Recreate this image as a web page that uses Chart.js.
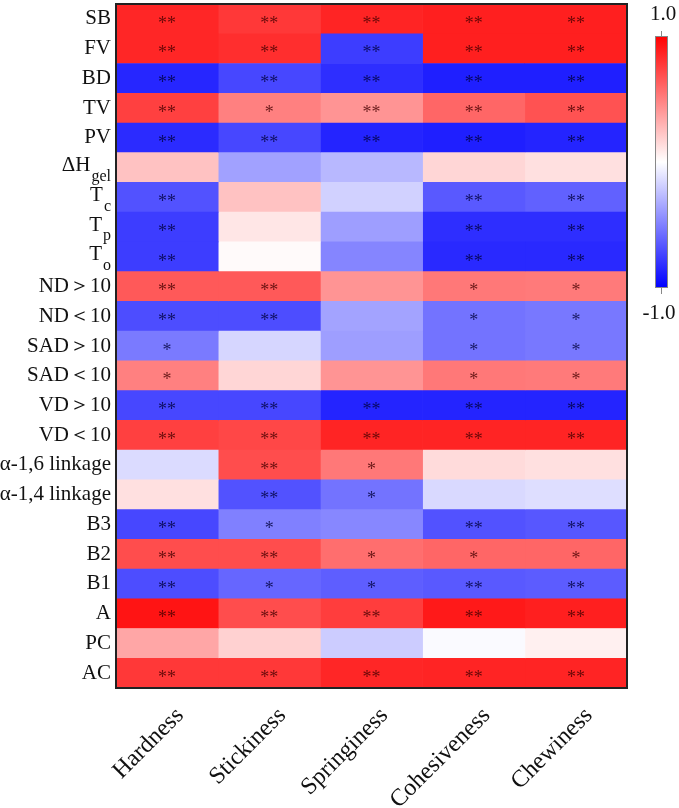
<!DOCTYPE html>
<html>
<head>
<meta charset="utf-8">
<script src="https://cdn.jsdelivr.net/npm/chart.js@4"></script>
<style>
  body { margin: 0; background: #fff; }
  #wrap { width: 679px; height: 808px; }
</style>
</head>
<body>
<div id="wrap"><canvas id="heat" width="679" height="808"></canvas></div>
<script>
// row labels (main text + subscript part)
const rowMain = ['SB', 'FV', 'BD', 'TV', 'PV', 'ΔH', 'T', 'T', 'T', 'ND＞10', 'ND＜10', 'SAD＞10', 'SAD＜10',
  'VD＞10', 'VD＜10', 'α-1,6 linkage', 'α-1,4 linkage', 'B3', 'B2', 'B1', 'A', 'PC', 'AC'];
const rowSub = ['', '', '', '', '', 'gel', 'c', 'p', 'o', '', '', '', '', '', '', '', '', '', '', '', '', '', ''];
const columns = ['Hardness', 'Stickiness', 'Springiness', 'Cohesiveness', 'Chewiness'];

// correlation coefficients, one array per column (rows in the order above)
const hardness     = [0.85, 0.85, -0.85, 0.75, -0.83, 0.24, -0.68, -0.76, -0.76, 0.65, -0.70, -0.52, 0.50, -0.72, 0.75, -0.14, 0.12, -0.72, 0.70, -0.70, 0.92, 0.35, 0.78];
const stickiness   = [0.78, 0.82, -0.72, 0.50, -0.72, -0.37, 0.24, 0.10, 0.02, 0.65, -0.70, -0.16, 0.16, -0.72, 0.72, 0.70, -0.68, -0.50, 0.70, -0.60, 0.70, 0.18, 0.78];
const springiness  = [0.86, -0.76, -0.82, 0.42, -0.86, -0.28, -0.18, -0.38, -0.48, 0.42, -0.36, -0.38, 0.42, -0.86, 0.86, 0.53, -0.55, -0.47, 0.57, -0.63, 0.76, -0.20, 0.85];
const cohesiveness = [0.88, 0.88, -0.88, 0.60, -0.88, 0.16, -0.65, -0.82, -0.84, 0.53, -0.55, -0.55, 0.53, -0.86, 0.86, 0.14, -0.15, -0.68, 0.60, -0.65, 0.90, -0.02, 0.86];
const chewiness    = [0.88, 0.88, -0.88, 0.68, -0.86, 0.12, -0.62, -0.82, -0.84, 0.52, -0.53, -0.53, 0.52, -0.86, 0.86, 0.12, -0.13, -0.66, 0.60, -0.64, 0.88, 0.06, 0.86];

// significance marks
const sigHardness     = ['**','**','**','**','**','','**','**','**','**','**','*','*','**','**','','','**','**','**','**','','**'];
const sigStickiness   = ['**','**','**','*','**','','','','','**','**','','','**','**','**','**','*','**','*','**','','**'];
const sigSpringiness  = ['**','**','**','**','**','','','','','','','','','**','**','*','*','','*','*','**','','**'];
const sigCohesiveness = ['**','**','**','**','**','','**','**','**','*','*','*','*','**','**','','','**','*','**','**','','**'];
const sigChewiness    = ['**','**','**','**','**','','**','**','**','*','*','*','*','**','**','','','**','*','**','**','','**'];

const colValues = [hardness, stickiness, springiness, cohesiveness, chewiness];
const colSig = [sigHardness, sigStickiness, sigSpringiness, sigCohesiveness, sigChewiness];
const rowLabels = rowMain.map((m, i) => m + rowSub[i]);

function corrColor(v) {
  const k = Math.round(255 * (1 - Math.abs(v)));
  return v >= 0 ? `rgb(255,${k},${k})` : `rgb(${k},${k},255)`;
}

const serif = '"Liberation Serif", "Times New Roman", serif';

const datasets = columns.map((name, c) => ({
  label: name,
  data: rowLabels.map(() => [c, c + 1]),
  backgroundColor: colValues[c].map(corrColor),
  borderWidth: 0,
  barPercentage: 1,
  categoryPercentage: 1,
  grouped: false
}));

const cellMarks = {
  id: 'cellMarks',
  afterDatasetsDraw(chart) {
    const ctx = chart.ctx;
    ctx.save();
    ctx.font = '18px ' + serif;
    ctx.textAlign = 'center';
    ctx.textBaseline = 'middle';
    chart.data.datasets.forEach((ds, c) => {
      chart.getDatasetMeta(c).data.forEach((bar, r) => {
        const s = colSig[c][r];
        if (!s) return;
        const v = colValues[c][r];
        ctx.fillStyle = v >= 0 ? 'rgba(70,0,0,0.8)' : 'rgba(0,0,60,0.8)';
        const cx = (bar.base + bar.x) / 2;
        ctx.fillText(s, cx, bar.y + 5);
      });
    });
    ctx.restore();
  }
};

const frameAndLegend = {
  id: 'frameAndLegend',
  afterDraw(chart) {
    const ctx = chart.ctx;
    const a = chart.chartArea;
    const y = chart.scales.y;
    const x = chart.scales.x;
    ctx.save();
    // frame
    ctx.strokeStyle = '#222';
    ctx.lineWidth = 2;
    ctx.strokeRect(a.left, a.top, a.right - a.left, a.bottom - a.top);

    // row labels with subscripts
    ctx.fillStyle = '#111';
    ctx.textBaseline = 'middle';
    rowMain.forEach((m, i) => {
      const py = y.getPixelForTick(i);
      const xr = a.left - 5;
      ctx.textAlign = 'right';
      if (rowSub[i]) {
        ctx.font = '16px ' + serif;
        const sw = ctx.measureText(rowSub[i]).width;
        ctx.fillText(rowSub[i], xr, py + 9);
        ctx.font = '21px ' + serif;
        ctx.fillText(m, xr - sw - 1, py - 2);
      } else {
        ctx.font = '21px ' + serif;
        ctx.fillText(m, xr, py);
      }
    });

    // column labels, rotated 45 degrees
    ctx.font = '24px ' + serif;
    ctx.textAlign = 'right';
    ctx.textBaseline = 'middle';
    columns.forEach((name, i) => {
      const px = x.getPixelForValue(i + 0.5);
      ctx.save();
      ctx.translate(px + 13, a.bottom + 24);
      ctx.rotate(-Math.PI / 4);
      ctx.fillText(name, 0, 0);
      ctx.restore();
    });

    // colour bar
    const bx = 655, bw = 13, by = 36, bh = 252;
    const g = ctx.createLinearGradient(0, by, 0, by + bh);
    g.addColorStop(0, corrColor(1));
    g.addColorStop(0.5, '#ffffff');
    g.addColorStop(1, corrColor(-1));
    ctx.fillStyle = g;
    ctx.fillRect(bx, by, bw, bh);
    ctx.strokeStyle = '#888';
    ctx.lineWidth = 1;
    ctx.strokeRect(bx + 0.5, by + 0.5, bw - 1, bh - 1);
    ctx.beginPath();
    ctx.moveTo(bx + bw / 2, by - 5); ctx.lineTo(bx + bw / 2, by);
    ctx.moveTo(bx + bw / 2, by + bh); ctx.lineTo(bx + bw / 2, by + bh + 6);
    ctx.stroke();
    ctx.fillStyle = '#111';
    ctx.font = '21px ' + serif;
    ctx.textAlign = 'center';
    ctx.fillText('1.0', 663, 14);
    ctx.fillText('-1.0', 659, 313);
    ctx.restore();
  }
};

new Chart(document.getElementById('heat'), {
  type: 'bar',
  data: { labels: rowLabels, datasets: datasets },
  options: {
    indexAxis: 'y',
    responsive: false,
    animation: false,
    layout: { padding: { top: 4, right: 52, left: 0, bottom: 0 } },
    plugins: { legend: { display: false }, tooltip: { enabled: false } },
    scales: {
      x: {
        type: 'linear',
        min: 0,
        max: 5,
        grid: { display: false },
        border: { display: false },
        afterFit: s => { s.height = 120; },
        ticks: { display: false }
      },
      y: {
        type: 'category',
        grid: { display: false },
        border: { display: false },
        afterFit: s => { s.width = 116; },
        ticks: { display: false }
      }
    }
  },
  plugins: [cellMarks, frameAndLegend]
});
</script>
</body>
</html>
